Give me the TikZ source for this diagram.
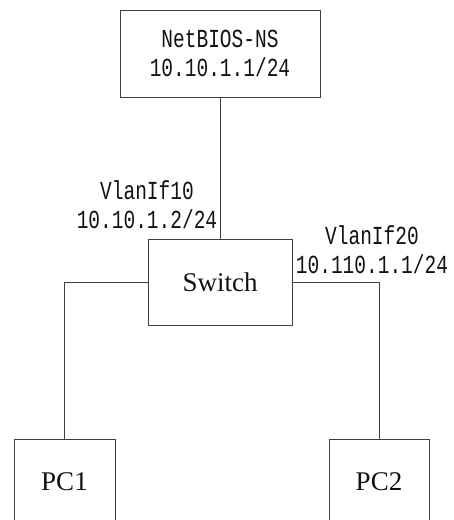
\documentclass[tikz,border=0pt]{standalone}
\usepackage{fontspec}
\setmainfont{Liberation Serif}
\newfontfamily\ipfont[FakeStretch=0.75]{Liberation Mono}
\usepackage{tikz}
\usetikzlibrary{positioning}
\definecolor{NetLine}{HTML}{404040}
\definecolor{NetInk}{HTML}{111111}

\begin{document}
\begin{tikzpicture}[x=1pt, y=-1pt, line width=1pt,
  box/.style={draw=NetLine, inner sep=0pt, text=NetInk, align=center},
  addr/.style={font=\fontsize{26}{29}\selectfont\ipfont, text=NetInk, align=center, inner sep=0pt},
  host/.style={font=\fontsize{27}{30}\selectfont}]
  \clip (0,0) rectangle (454,520);
  \node[box, addr, minimum width=200pt, minimum height=87pt] (ns) at (220,53.5)
        {NetBIOS-NS\\10.10.1.1/24};
  \node[box, host, minimum width=144pt, minimum height=86pt] (sw) at (220,282) {Switch};
  \node[box, host, minimum width=101pt, minimum height=86pt] (pc1) at (64.5,482) {PC1};
  \node[box, host, minimum width=100pt, minimum height=86pt] (pc2) at (379,482) {PC2};
  \node[addr] (vl10) at (147,205) {VlanIf10\\10.10.1.2/24};
  \node[addr] (vl20) at (372,250) {VlanIf20\\10.110.1.1/24};
  \draw[NetLine] (ns) -- (sw);
  \draw[NetLine] (sw.west) -| (pc1.north);
  \draw[NetLine] (sw.east) -| (pc2.north);
\end{tikzpicture}
\end{document}
